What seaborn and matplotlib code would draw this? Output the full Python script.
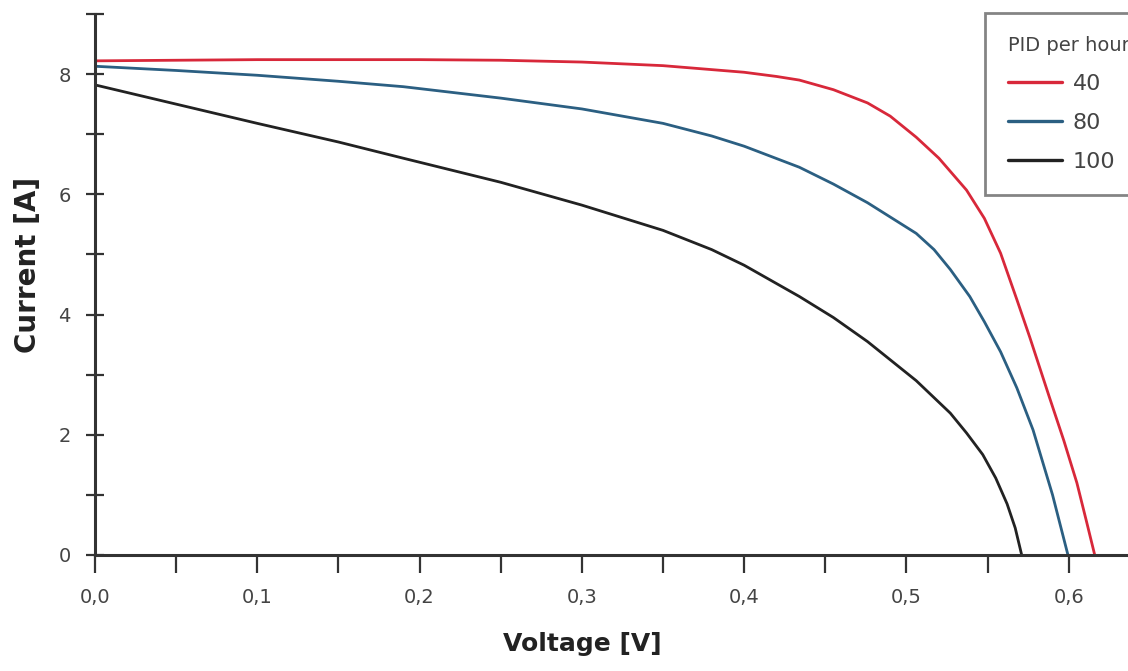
import matplotlib
matplotlib.use("Agg")
import matplotlib.pyplot as plt
from matplotlib.ticker import MultipleLocator, FuncFormatter
import pandas as pd
import seaborn as sns

# PID levels (hours) and their line colours
pid_levels = ["40", "80", "100"]
line_colors = ["#d8283a", "#2b5f82", "#222222"]

# I-V curves
volt_40 = [0.0, 0.05, 0.10, 0.15, 0.20, 0.25, 0.30, 0.35, 0.40, 0.42, 0.434,
           0.455, 0.476, 0.49, 0.506, 0.52, 0.537, 0.548, 0.558, 0.568, 0.576,
           0.588, 0.597, 0.605, 0.611, 0.616]
amp_40 = [8.22, 8.23, 8.24, 8.24, 8.24, 8.23, 8.20, 8.14, 8.03, 7.96, 7.90,
          7.74, 7.52, 7.30, 6.95, 6.60, 6.07, 5.60, 5.02, 4.25, 3.62,
          2.63, 1.90, 1.20, 0.55, 0.0]

volt_80 = [0.0, 0.05, 0.10, 0.15, 0.19, 0.25, 0.30, 0.35, 0.38, 0.40, 0.434,
           0.455, 0.476, 0.506, 0.517, 0.527, 0.539, 0.548, 0.558, 0.568,
           0.578, 0.59, 0.5995]
amp_80 = [8.13, 8.06, 7.98, 7.88, 7.79, 7.60, 7.42, 7.18, 6.97, 6.80, 6.45,
          6.17, 5.86, 5.35, 5.08, 4.75, 4.30, 3.88, 3.38, 2.78,
          2.08, 1.00, 0.0]

volt_100 = [0.0, 0.05, 0.10, 0.15, 0.19, 0.25, 0.30, 0.35, 0.38, 0.40, 0.434,
            0.455, 0.476, 0.506, 0.527, 0.537, 0.547, 0.555, 0.562, 0.567, 0.571]
amp_100 = [7.82, 7.50, 7.18, 6.87, 6.60, 6.20, 5.82, 5.40, 5.08, 4.82, 4.30,
           3.95, 3.55, 2.90, 2.36, 2.03, 1.67, 1.28, 0.85, 0.45, 0.0]

x_ticks = [0.0, 0.1, 0.2, 0.3, 0.4, 0.5, 0.6]
y_ticks = [0, 2, 4, 6, 8]

frames = []
for lvl, v, a in zip(pid_levels, [volt_40, volt_80, volt_100], [amp_40, amp_80, amp_100]):
    frames.append(pd.DataFrame({"Voltage": v, "Current": a, "PID": lvl}))
df = pd.concat(frames, ignore_index=True)

sns.set_theme(style="ticks")
plt.rcParams["font.family"] = ["DejaVu Sans"]

fig = plt.figure(figsize=(11.28, 6.71), dpi=100)
ax = fig.add_axes([0.0842, 0.1729, 0.9158, 0.8063])

sns.lineplot(data=df, x="Voltage", y="Current", hue="PID", hue_order=pid_levels,
             palette=dict(zip(pid_levels, line_colors)), estimator=None,
             sort=False, linewidth=2.0, solid_joinstyle="round", ax=ax)

ax.set_xlim(0, 0.6365)
ax.set_ylim(0, 9)

ax.set_xticks(x_ticks)
ax.set_yticks(y_ticks)
ax.xaxis.set_minor_locator(MultipleLocator(0.05))
ax.yaxis.set_minor_locator(MultipleLocator(1))
ax.xaxis.set_major_formatter(FuncFormatter(lambda v, p: f"{v:.1f}".replace(".", ",")))

for side in ["top", "right"]:
    ax.spines[side].set_visible(False)
for side in ["left", "bottom"]:
    ax.spines[side].set_linewidth(2.2)
    ax.spines[side].set_color("#333333")

ax.tick_params(axis="x", which="both", direction="out", length=13, width=1.6,
               color="#333333", pad=11, labelsize=14, labelcolor="#444444")
ax.tick_params(axis="y", which="both", direction="inout", length=13, width=1.6,
               color="#333333", pad=11, labelsize=14, labelcolor="#444444")

ax.set_xlabel("Voltage [V]", fontsize=18, fontweight="bold", color="#222222")
ax.set_ylabel("Current [A]", fontsize=20, fontweight="bold", color="#222222")
ax.xaxis.set_label_coords(0.472, -0.142)
ax.yaxis.set_label_coords(-0.0513, 0.536)

old = ax.get_legend()
handles = old.legend_handles
labels = [t.get_text() for t in old.get_texts()]
old.remove()
for h in handles:
    h.set_linewidth(2.4)

leg = ax.legend(handles, labels, title="PID per hour", loc="upper left",
                bbox_to_anchor=(985 / 1128, 1 - 13 / 671),
                bbox_transform=fig.transFigure, frameon=True, fancybox=False,
                fontsize=16, title_fontsize=14, handlelength=2.4,
                handletextpad=0.5, labelspacing=0.85, borderpad=1.05,
                borderaxespad=0, alignment="left", edgecolor="#666666")
leg.get_frame().set_linewidth(2)
leg.get_title().set_color("#444444")
for t in leg.get_texts():
    t.set_color("#444444")

fig.savefig("out.png", dpi=100)
